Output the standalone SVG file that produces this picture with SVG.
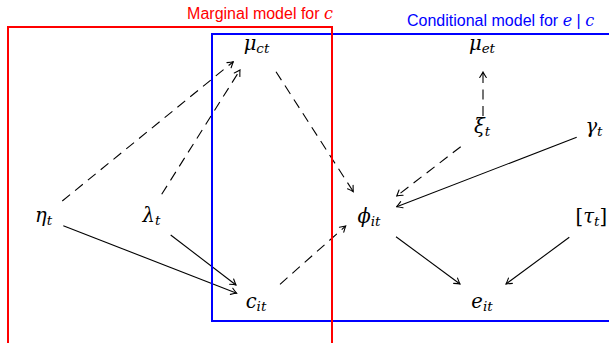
<svg xmlns="http://www.w3.org/2000/svg" width="609" height="343" viewBox="0 0 609 343">
<style>
.m{font-family:"DejaVu Serif","Liberation Serif",serif;font-style:italic;font-size:19.5px;fill:#000;text-anchor:middle}
.s{font-size:13.5px}
.e{fill:none;stroke:#000;stroke-width:1.1}
.d{stroke-dasharray:10 6.5}
.lab{font-family:"Liberation Sans","DejaVu Sans",sans-serif;font-size:16px}
.mi{font-family:"DejaVu Serif","Liberation Serif",serif;font-style:italic;font-size:16px}
.up{font-style:normal}
</style>
<defs>
<marker id="ar" markerUnits="userSpaceOnUse" viewBox="-7 -5 8 10" refX="0" refY="0" markerWidth="8" markerHeight="10" orient="auto">
<path d="M-5.5,-3.3 Q-1.8,-0.9 0,0 Q-1.8,0.9 -5.5,3.3" fill="none" stroke="#000" stroke-width="1.1" stroke-linecap="round"/>
</marker>
</defs>
<rect width="609" height="343" fill="#fff"/>
<g id="connectors">
<path class="e d" d="M62.3,201 L233.3,61.7" marker-end="url(#ar)"/>
<path class="e d" d="M161.7,194.3 L240,70" marker-end="url(#ar)"/>
<path class="e d" d="M276,71.7 L353.3,191.7" marker-end="url(#ar)"/>
<path class="e d" d="M280,284.3 L345.7,226" marker-end="url(#ar)"/>
<path class="e d" d="M460.7,146.7 L396.7,196" marker-end="url(#ar)"/>
<path class="e d" d="M483,116 L483,72" marker-end="url(#ar)"/>
<path class="e" d="M576.7,137.3 L396.7,206.7" marker-end="url(#ar)"/>
<path class="e" d="M63.3,225.7 L236.7,293.3" marker-end="url(#ar)"/>
<path class="e" d="M170.7,235 L236,285" marker-end="url(#ar)"/>
<path class="e" d="M396,236.7 L460,284" marker-end="url(#ar)"/>
<path class="e" d="M569.3,237.3 L506,284" marker-end="url(#ar)"/>
</g>
<g id="conditional-box">
<rect x="212" y="34" width="420" height="287" fill="none" stroke="#0000ff" stroke-width="2"/>
<text class="lab" x="407" y="26" fill="#0000ff">Conditional model for <tspan class="mi">e</tspan> | <tspan class="mi">c</tspan></text>
</g>
<g id="marginal-box">
<rect x="8" y="27" width="324" height="330" fill="none" stroke="#ff0000" stroke-width="2"/>
<text class="lab" x="333" y="19" fill="#ff0000" text-anchor="end">Marginal model for <tspan class="mi">c</tspan></text>
</g>
<g id="mu_ct"><text class="m" x="256.5" y="50">μ<tspan class="s" dy="3">ct</tspan></text></g>
<g id="mu_et"><text class="m" x="482" y="50">μ<tspan class="s" dy="3">et</tspan></text></g>
<g id="xi_t"><text class="m" x="482" y="133">ξ<tspan class="s" dy="3">t</tspan></text></g>
<g id="gamma_t"><text class="m" x="594" y="133">γ<tspan class="s" dy="3">t</tspan></text></g>
<g id="eta_t"><text class="m" x="43.5" y="222">η<tspan class="s" dy="3">t</tspan></text></g>
<g id="lambda_t"><text class="m" x="151.5" y="222">λ<tspan class="s" dy="3">t</tspan></text></g>
<g id="phi_it"><text class="m" x="369" y="223">ϕ<tspan class="s" dy="3">it</tspan></text></g>
<g id="tau_t"><text class="m" x="607" y="223" style="text-anchor:end"><tspan class="up">[</tspan>τ<tspan class="s" dy="3">t</tspan><tspan class="up" dy="-3">]</tspan></text></g>
<g id="c_it"><text class="m" x="256" y="308">c<tspan class="s" dy="3">it</tspan></text></g>
<g id="e_it"><text class="m" x="482" y="308">e<tspan class="s" dy="3">it</tspan></text></g>
</svg>
